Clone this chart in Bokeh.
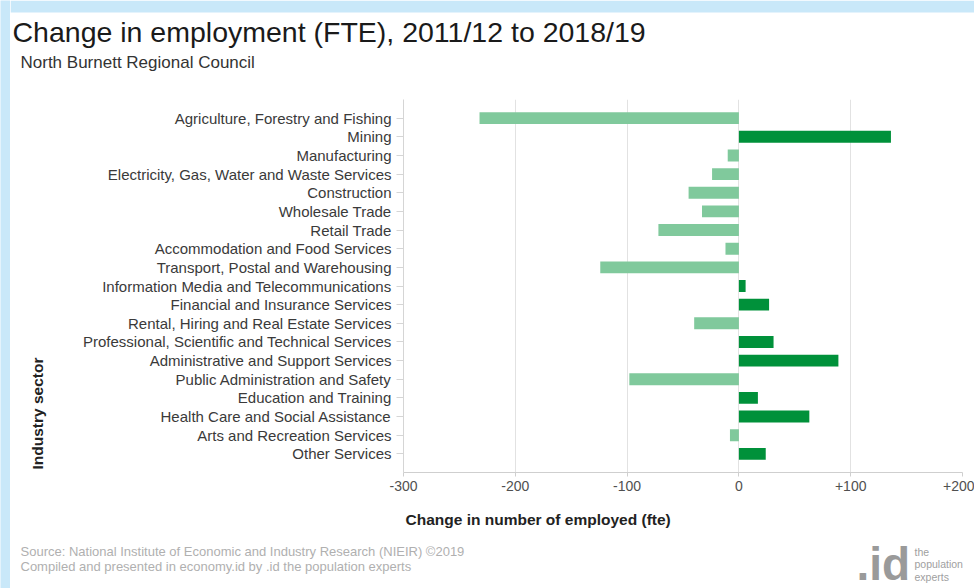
import math
from bokeh.plotting import figure
from bokeh.layouts import column, row
from bokeh.models import (FactorRange, Range1d, FixedTicker, Label, BoxAnnotation,
                          ColumnDataSource)
from bokeh.embed import file_html
from bokeh.resources import INLINE

# ---------------- data ----------------
industries = [
    "Agriculture, Forestry and Fishing",
    "Mining",
    "Manufacturing",
    "Electricity, Gas, Water and Waste Services",
    "Construction",
    "Wholesale Trade",
    "Retail Trade",
    "Accommodation and Food Services",
    "Transport, Postal and Warehousing",
    "Information Media and Telecommunications",
    "Financial and Insurance Services",
    "Rental, Hiring and Real Estate Services",
    "Professional, Scientific and Technical Services",
    "Administrative and Support Services",
    "Public Administration and Safety",
    "Education and Training",
    "Health Care and Social Assistance",
    "Arts and Recreation Services",
    "Other Services",
]
change_fte = [-232, 136, -10, -24, -45, -33, -72, -12, -124, 6, 27, -40, 31, 89, -98, 17, 63, -8, 24]

x_tick_values = [-300, -200, -100, 0, 100, 200]
x_tick_labels = ["-300", "-200", "-100", "0", "+100", "+200"]

title_text = "Change in employment (FTE), 2011/12 to 2018/19"
subtitle_text = "North Burnett Regional Council"
x_title = "Change in number of employed (fte)"
y_title = "Industry sector"
source_lines = [
    "Source: National Institute of Economic and Industry Research (NIEIR) \u00a92019",
    "Compiled and presented in economy.id by .id the population experts",
]
logo_mark = ".id"
logo_words = ["the", "population", "experts"]

# ---------------- styling / layout ----------------
FONT = "Liberation Sans"
POS_COLOR = "#00913a"
NEG_COLOR = "#80c99c"
BLUE = "#c9e8f9"

W, H = 974, 588
STRIP_W = 10         # blue strip on the left
HEAD_H = 99          # header height (frame top of chart)
MID_H = 401          # chart strip height
FOOT_H = H - HEAD_H - MID_H
LEFT_W = 60          # page x where the main chart figure starts
FL, FR = 403, 962    # frame left/right in page px
FB = 472             # frame bottom in page px


def blank(width, height, x0, x1, y0, y1, bottom_border=0):
    f = figure(width=width, height=height, output_backend="svg", toolbar_location=None,
               x_range=Range1d(x0, x1), y_range=Range1d(y1, y0),
               x_axis_location=None, y_axis_location=None,
               min_border=0, min_border_left=0, min_border_right=0,
               min_border_top=0, min_border_bottom=bottom_border)
    f.grid.visible = False
    f.outline_line_color = None
    f.background_fill_color = "white"
    f.border_fill_color = "white"
    return f


def lab(f, text, x, y, size, color="#222222", bold=False, align="left", angle=0):
    f.add_layout(Label(x=x, y=y, text=text, text_font=FONT, text_font_size=size,
                       text_color=color, text_align=align, text_baseline="middle",
                       text_font_style="bold" if bold else "normal", angle=angle))


# blue strip on the far left
strip = figure(width=STRIP_W, height=H, output_backend="svg", toolbar_location=None,
               x_axis_location=None, y_axis_location=None,
               min_border=0, min_border_left=0, min_border_right=0,
               min_border_top=0, min_border_bottom=0)
strip.grid.visible = False
strip.outline_line_color = None
strip.background_fill_color = BLUE
strip.border_fill_color = BLUE

# header (page coords: x 10..974, y 0..99)
head = blank(W - STRIP_W, HEAD_H, STRIP_W, W, 0, HEAD_H)
head.add_layout(BoxAnnotation(left=STRIP_W, right=W, top=0, bottom=12,
                              fill_color=BLUE, fill_alpha=1, line_color=None))
lab(head, title_text, 12, 31, "28.5px", "#1a1a1a")
lab(head, subtitle_text, 20, 62, "17px", "#333333")

# left part of chart strip (frame aligned with chart frame: page y 99..472)
left = blank(LEFT_W - STRIP_W, MID_H, STRIP_W, LEFT_W, HEAD_H, FB,
             bottom_border=HEAD_H + MID_H - FB)
lab(left, y_title, 37, 413, "15.5px", "#222222", bold=True, align="center", angle=math.pi / 2)

# main chart
colors = [POS_COLOR if v >= 0 else NEG_COLOR for v in change_fte]
src = ColumnDataSource(dict(ind=industries, val=change_fte, col=colors))

p = figure(width=W - LEFT_W, height=MID_H, output_backend="svg", toolbar_location=None,
           y_range=FactorRange(factors=list(reversed(industries)),
                               range_padding=0.5, range_padding_units="absolute"),
           x_range=Range1d(-300, 200),
           min_border_left=FL - LEFT_W, min_border_right=W - FR,
           min_border_top=0, min_border_bottom=HEAD_H + MID_H - FB)

p.hbar(y="ind", left=0, right="val", height=0.64, fill_color="col",
       line_color=None, source=src)

p.background_fill_color = "white"
p.border_fill_color = "white"
p.outline_line_color = None

p.xaxis.ticker = FixedTicker(ticks=x_tick_values)
p.xaxis.major_label_overrides = {v: l for v, l in zip(x_tick_values, x_tick_labels)}
p.xaxis.axis_line_color = "#cfcfcf"
p.xaxis.major_tick_line_color = "#cfcfcf"
p.xaxis.major_tick_out = 4
p.xaxis.major_tick_in = 0
p.xaxis.minor_tick_line_color = None
p.xaxis.major_label_text_font = FONT
p.xaxis.major_label_text_font_size = "14px"
p.xaxis.major_label_text_color = "#505050"
p.xaxis.major_label_standoff = 4

p.yaxis.axis_line_color = "#d5d5d5"
p.yaxis.major_tick_line_color = "#d5d5d5"
p.yaxis.major_tick_out = 7
p.yaxis.major_tick_in = 0
p.yaxis.major_label_text_font = FONT
p.yaxis.major_label_text_font_size = "15px"
p.yaxis.major_label_text_color = "#3a3a3a"
p.yaxis.major_label_standoff = 5

p.xgrid.grid_line_color = "#e2e2e2"
p.xgrid.grid_line_width = 1
p.ygrid.grid_line_color = None

# footer (page coords: x 10..974, y 500..588)
y0 = HEAD_H + MID_H
foot = blank(W - STRIP_W, FOOT_H, STRIP_W, W, y0, H)
lab(foot, x_title, 405, 519, "15.5px", "#222222", bold=True)
lab(foot, source_lines[0], 20, 551, "13px", "#b0b0b0")
lab(foot, source_lines[1], 20, 566, "13px", "#b0b0b0")
lab(foot, logo_mark, 856, 563, "46px", "#9a9a9a", bold=True)
for i, w in enumerate(logo_words):
    lab(foot, w, 914, 551 + 12.5 * i, "10.5px", "#a0a0a0")

layout = row(strip, column(head, row(left, p), foot))
open("out.html", "w").write(file_html(layout, INLINE))
